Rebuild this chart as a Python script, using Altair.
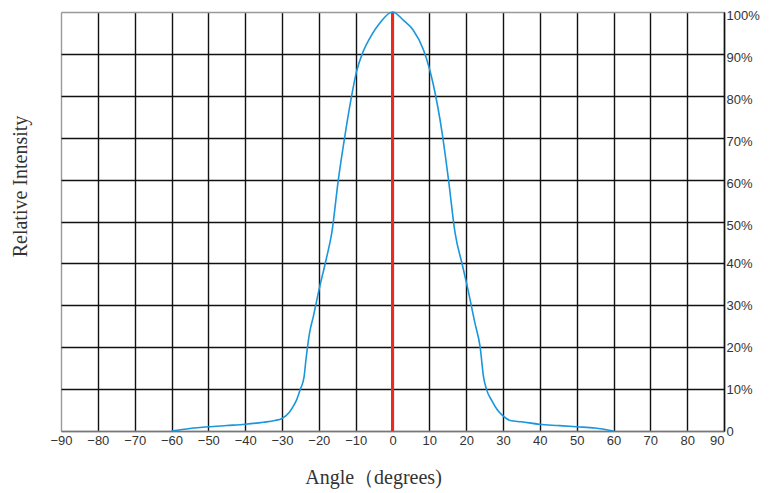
import altair as alt
import pandas as pd

angles = [-60, -55, -50, -45, -40, -35, -32, -30, -28, -27, -26, -25, -24, -23.5, -22.5,
          -21.5, -20, -18, -16.5, -14.7, -13, -11.5, -9.7, -8, -6, -3.5, 0,
          3, 5.6, 8.4, 11, 13.5, 15.2, 17, 19, 20.3, 22.4, 23.8, 24.7, 25.5, 27,
          28.5, 30, 32, 35, 40, 45, 50, 55, 60]
intensity = [0, 0.6, 1.0, 1.3, 1.6, 2.1, 2.5, 3.0, 4.5, 5.8, 7.5, 10, 13, 17, 23.5,
             27.3, 33.5, 41, 47.2, 60, 70, 78, 86, 90.5, 94, 97.3, 100,
             98, 95.7, 91, 83, 71, 60, 47.2, 39.5, 34.5, 25.7, 20, 13, 10, 7.2,
             5, 3.6, 2.5, 2.2, 1.6, 1.3, 1.0, 0.7, 0]

red_angle = [0, 0]
red_level = [0, 100]

x_ticks = list(range(-90, 91, 10))
y_ticks = list(range(0, 101, 10))

curve = pd.DataFrame({"angle": angles, "intensity": intensity})
red = pd.DataFrame({"angle": red_angle, "intensity": red_level})

xscale = alt.Scale(domain=[-90, 90], nice=False, zero=False)
yscale = alt.Scale(domain=[0, 100], nice=False)

x_axis = alt.Axis(values=x_ticks, labelFont="Liberation Sans", labelFontSize=13,
                  labelColor="#333", domainColor="#777", domainWidth=1.5,
                  ticks=False, labelPadding=3, labelFlush=False,
                  labelAlign={"condition": {"test": "datum.value == 90", "value": "right"},
                              "value": "center"},
                  grid=True, gridWidth=1.4,
                  gridColor={"condition": {"test": "datum.value == -90 || datum.value == 0",
                                           "value": "#999"},
                             "value": "#111"},
                  title="Angle（degrees)", titleFont="Liberation Serif",
                  titleFontSize=20, titleFontWeight="normal", titleColor="#333",
                  titleX=312, titleY=52, titleAlign="center", titleBaseline="alphabetic")

left_axis = alt.Axis(orient="left", values=y_ticks, labels=False, ticks=False,
                     domain=False, grid=True, gridWidth=1.4,
                     gridColor={"condition": {"test": "datum.value == 100 || datum.value == 0",
                                              "value": "#999"},
                                "value": "#111"},
                     title="Relative Intensity", titleFont="Liberation Serif",
                     titleFontSize=20, titleFontWeight="normal", titleColor="#333",
                     titleAngle=270, titleX=-35, titleY=174, titleAlign="center",
                     titleBaseline="alphabetic")

right_axis = alt.Axis(orient="right", values=y_ticks,
                      labelExpr="datum.value == 0 ? '0' : datum.value + '%'",
                      labelFont="Liberation Sans", labelFontSize=13, labelColor="#333",
                      labelOffset={"condition": {"test": "datum.value >= 50", "value": 3.5},
                                   "value": 0.5},
                      ticks=False, labelPadding=2, domainColor="#111", domainWidth=1.4,
                      grid=False, title=None)

red_layer = alt.Chart(red).mark_line(color="#ee2a1c", strokeWidth=3).encode(
    x=alt.X("angle:Q", scale=xscale, axis=x_axis),
    y=alt.Y("intensity:Q", scale=yscale, axis=left_axis),
)

curve_layer = alt.Chart(curve).mark_line(color="#1a96dc", strokeWidth=1.6,
                                         interpolate="monotone").encode(
    x=alt.X("angle:Q", scale=xscale, axis=x_axis),
    y=alt.Y("intensity:Q", scale=yscale, axis=right_axis),
)

chart = alt.layer(red_layer, curve_layer).resolve_axis(y="independent").properties(
    width=663, height=419,
    autosize=alt.AutoSizeParams(type="none"),
    padding={"left": 53, "top": 4, "right": 43, "bottom": 62},
).configure_view(stroke="#999", strokeWidth=1.5).configure(background="white")

chart.save("out.html", embed_options={"renderer": "svg", "actions": False})
